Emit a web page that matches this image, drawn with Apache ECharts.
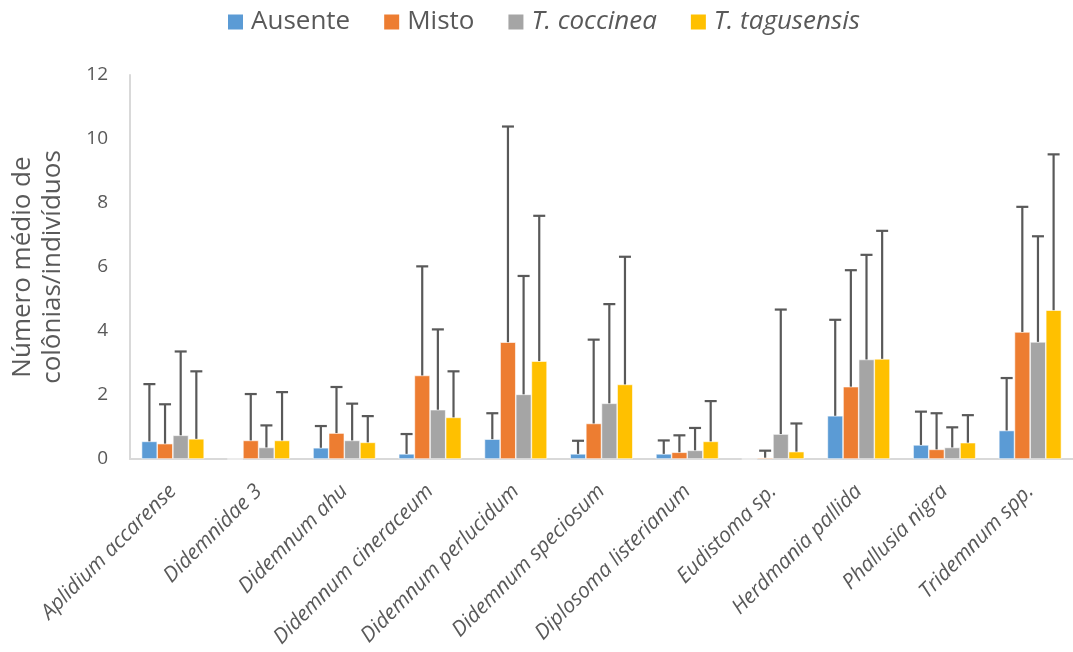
<!DOCTYPE html>
<html>
<head>
<meta charset="utf-8">
<script src="https://cdn.jsdelivr.net/npm/echarts@6/dist/echarts.min.js"></script>
<style>
  html, body { margin: 0; padding: 0; background: #fff; }
  #chart { width: 1073px; height: 652px; }
</style>
</head>
<body>
<div id="chart"></div>
<script>
// Species (categories on the x axis)
const categories = [
  'Aplidium accarense', 'Didemnidae 3', 'Didemnum ahu', 'Didemnum cineraceum',
  'Didemnum perlucidum', 'Didemnum speciosum', 'Diplosoma listerianum',
  'Eudistoma sp.', 'Herdmania pallida', 'Phallusia nigra', 'Tridemnum spp.'
];

// Series names (treatments)
const seriesNames = ['Ausente', 'Misto', 'T. coccinea', 'T. tagusensis'];

// Mean number of colonies/individuals per species
const ausente   = [0.55, 0,    0.35, 0.16, 0.62, 0.16, 0.16, 0,    1.35, 0.44, 0.89];
const misto     = [0.48, 0.58, 0.81, 2.61, 3.65, 1.11, 0.21, 0.04, 2.26, 0.30, 3.97];
const coccinea  = [0.74, 0.36, 0.58, 1.54, 2.02, 1.74, 0.27, 0.78, 3.11, 0.36, 3.66];
const tagusensis= [0.63, 0.58, 0.52, 1.30, 3.06, 2.33, 0.55, 0.23, 3.13, 0.51, 4.65];

// Upper end of each error bar (mean + SD)
const ausenteUpper   = [2.34, 0,    1.03, 0.78, 1.43, 0.57, 0.58, 0,    4.35, 1.48, 2.53];
const mistoUpper     = [1.71, 2.03, 2.25, 6.02, 10.39, 3.73, 0.74, 0.26, 5.90, 1.43, 7.88];
const coccineaUpper  = [3.36, 1.05, 1.73, 4.05, 5.72, 4.84, 0.97, 4.67, 6.38, 0.99, 6.96];
const tagusensisUpper= [2.74, 2.09, 1.34, 2.74, 7.60, 6.32, 1.81, 1.11, 7.13, 1.37, 9.52];

const means  = [ausente, misto, coccinea, tagusensis];
const uppers = [ausenteUpper, mistoUpper, coccineaUpper, tagusensisUpper];
const colors = ['#5b9bd5', '#ed7d31', '#a5a5a5', '#ffc000'];

const CATEGORY_GAP = 0.27;
const FONT = '"Open Sans", "Noto Sans", sans-serif';

const chart = echarts.init(document.getElementById('chart'), null, { renderer: 'canvas' });

const barSeries = seriesNames.map((name, i) => ({
  name: name,
  type: 'bar',
  data: means[i],
  barGap: '0%',
  barCategoryGap: (CATEGORY_GAP * 100) + '%',
  itemStyle: { color: colors[i], borderColor: '#ffffff', borderWidth: 0.6 },
  z: 2
}));

// Upper error bars drawn as custom marks aligned with each bar
const errorSeries = seriesNames.map((name, i) => ({
  name: name + ' err',
  type: 'custom',
  z: 3,
  silent: true,
  data: categories.map((c, k) => [k, means[i][k], uppers[i][k]]),
  renderItem: function (params, api) {
    const k = api.value(0);
    if (!(api.value(2) > api.value(1))) return null;
    const lo = api.coord([k, api.value(1)]);
    const hi = api.coord([k, api.value(2)]);
    const catW = api.size([1, 0])[0];
    const barW = catW * (1 - CATEGORY_GAP) / 4;
    const x = lo[0] + (i - 1.5) * barW;
    const capHalf = 6;
    const style = { stroke: '#595959', lineWidth: 2.2, fill: null };
    return {
      type: 'group',
      children: [
        { type: 'line', shape: { x1: x, y1: lo[1], x2: x, y2: hi[1] }, style: style },
        { type: 'line', shape: { x1: x - capHalf, y1: hi[1], x2: x + capHalf, y2: hi[1] }, style: style }
      ]
    };
  }
}));

chart.setOption({
  animation: false,
  backgroundColor: '#ffffff',
  textStyle: { fontFamily: FONT },
  legend: {
    data: seriesNames,
    top: 4,
    left: 221,
    itemWidth: 17,
    itemHeight: 17,
    itemGap: 32,
    icon: 'rect',
    textStyle: {
      fontSize: 26,
      color: '#595959',
      fontFamily: FONT,
      padding: [0, 0, 0, 2],
      rich: {
        it: { fontStyle: 'italic', fontSize: 26, color: '#595959', fontFamily: FONT }
      }
    },
    formatter: function (n) {
      return n.startsWith('T.') ? '{it|' + n + '}' : n;
    }
  },
  grid: { left: 123, top: 75, width: 953, bottom: 193, containLabel: false },
  xAxis: {
    type: 'category',
    data: categories,
    axisLine: { show: true, lineStyle: { color: '#d9d9d9', width: 2 } },
    axisTick: { show: false },
    axisLabel: {
      interval: 0,
      rotate: 45,
      margin: 29,
      fontSize: 21,
      fontStyle: 'italic',
      color: '#595959',
      fontFamily: FONT
    }
  },
  yAxis: {
    type: 'value',
    min: 0,
    max: 12,
    interval: 2,
    name: 'Número médio de\ncolônias/indivíduos',
    nameLocation: 'middle',
    nameGap: 62,
    nameRotate: 90,
    nameTextStyle: { fontSize: 26, color: '#595959', lineHeight: 30, fontFamily: FONT },
    axisLine: { show: true, lineStyle: { color: '#d9d9d9', width: 2 } },
    axisTick: { show: false },
    splitLine: { show: false },
    axisLabel: { fontSize: 19, color: '#595959', margin: 22, fontFamily: FONT }
  },
  series: barSeries.concat(errorSeries)
});
</script>
</body>
</html>
